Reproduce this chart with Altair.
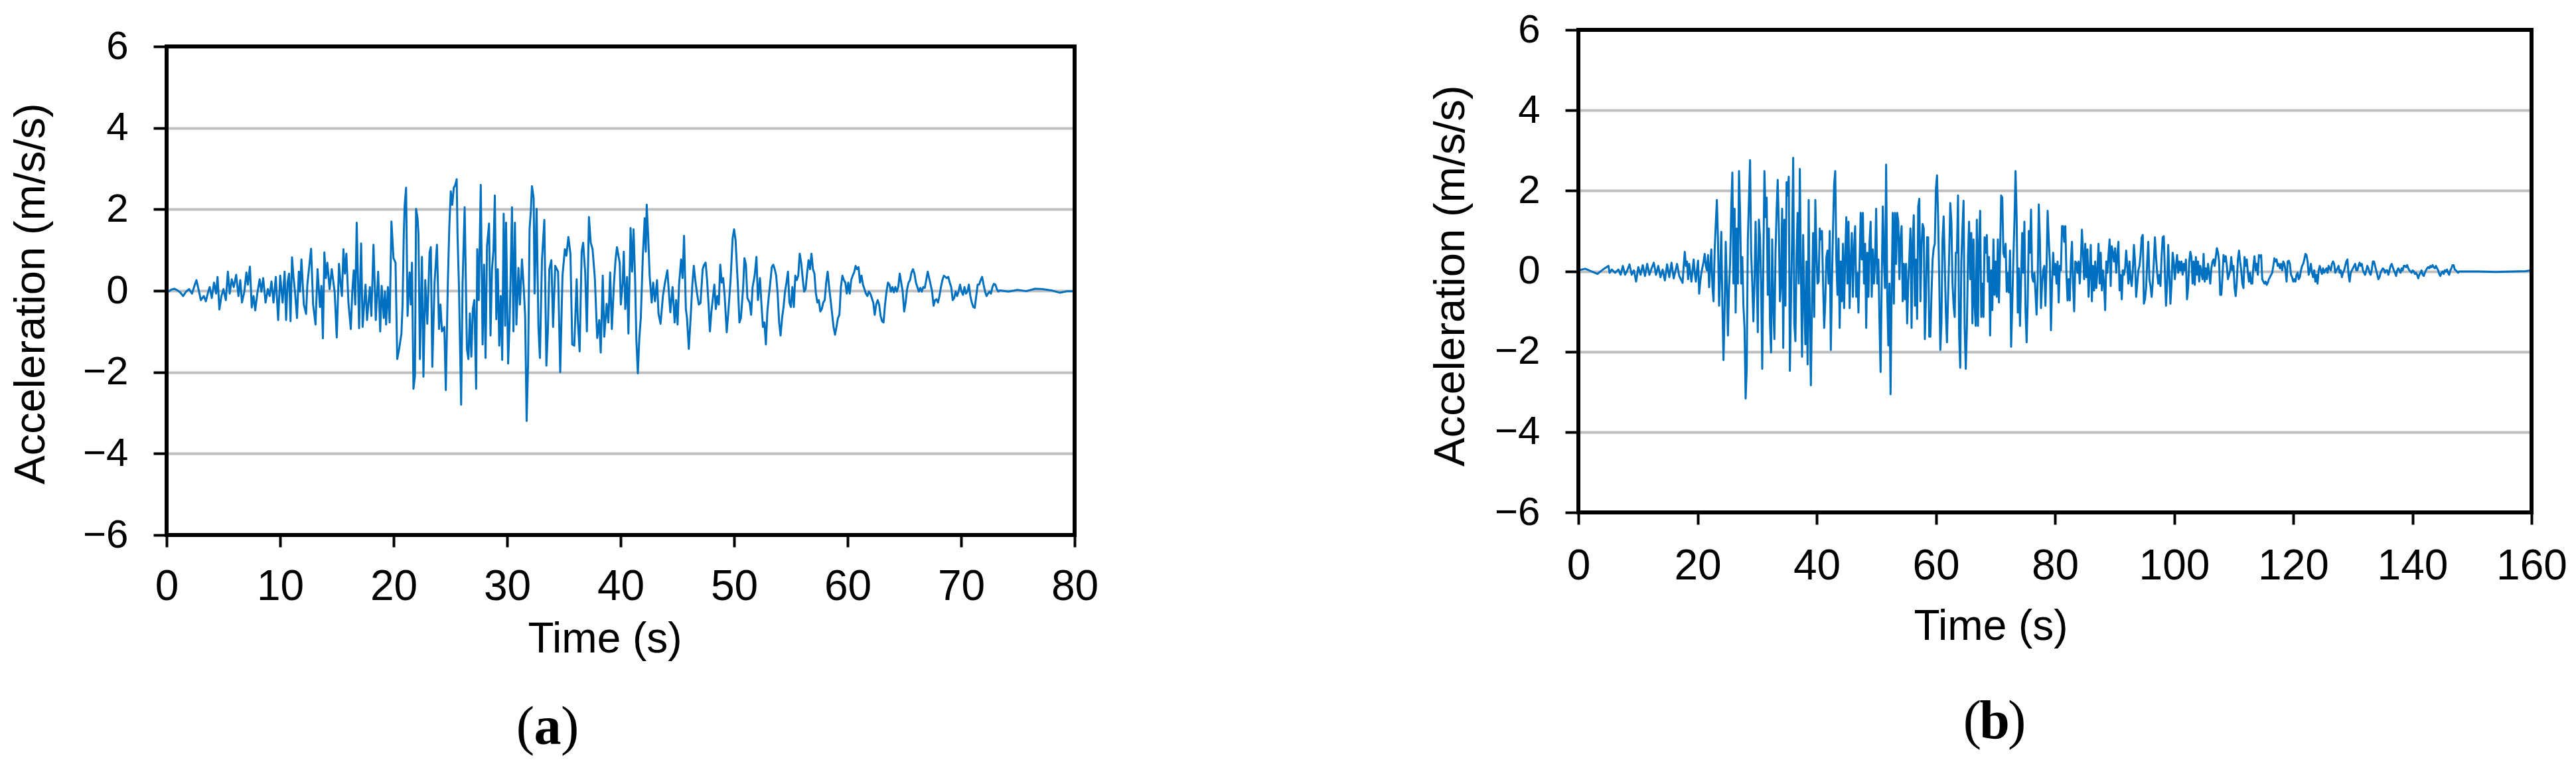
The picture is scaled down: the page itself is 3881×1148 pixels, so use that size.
import altair as alt
import pandas as pd

# ---------------- Panel (a): 0-80 s ----------------
# (time s, acceleration m/s/s), irregular spacing
A_IRREG = [
    (0.0, 0.03), (0.17, -0.02), (0.43, 0.03), (0.69, 0.05), (0.95, 0.01), (1.2, -0.04), (1.46, -0.13),
    (1.72, -0.02), (1.98, 0.04), (2.24, -0.07), (2.45, 0.12), (2.63, 0.26), (2.81, 0.04), (3.02, -0.23),
    (3.28, -0.13), (3.46, -0.26), (3.67, -0.02), (3.8, 0.09), (3.98, -0.18), (4.18, 0.2), (4.36, -0.07),
    (4.49, 0.34), (4.65, -0.46), (4.83, -0.13), (5.01, 0.04), (5.22, -0.23), (5.4, 0.47), (5.56, -0.07),
    (5.74, 0.28), (5.92, 0.09), (6.13, 0.39), (6.33, -0.13), (6.49, 0.26), (6.64, -0.29), (6.85, -0.02),
    (7.03, 0.45), (7.16, 0.15), (7.34, 0.59), (7.5, -0.41), (7.66, -0.13), (7.81, -0.48), (7.99, -0.07),
    (8.2, 0.28), (8.35, -0.02), (8.51, 0.31), (8.72, -0.29), (8.92, 0.04), (9.08, -0.13), (9.24, 0.23),
    (9.42, -0.29), (9.62, 0.34), (9.83, -0.72), (10.01, 0.37), (10.22, -0.29), (10.4, 0.47), (10.53, -0.72),
    (10.66, 0.2), (10.79, 0.42), (10.92, -0.75), (11.05, 0.82), (11.18, 0.34), (11.31, -0.02), (11.49, -0.67),
    (11.65, 0.47), (11.75, -0.02), (11.88, 0.77), (12.09, -0.34), (12.29, -0.57), (12.4, 0.15), (12.53, 0.5),
    (12.73, 1.03), (12.91, -0.34), (13.12, -0.83), (13.3, 0.53), (13.51, -0.4), (13.64, 0.12), (13.77, -1.17),
    (13.9, 0.94), (14.03, 0.31), (14.16, 0.69), (14.36, 0.04), (14.55, 0.53), (14.81, -0.04), (14.99, -1.15),
    (15.19, 0.66), (15.32, 0.2), (15.45, -0.13), (15.58, 1.02), (15.71, 0.42), (15.84, 0.91), (16.02, -0.29),
    (16.23, -0.94), (16.36, -0.02), (16.49, 0.5), (16.62, -0.34), (16.75, 1.67), (16.96, -0.92), (17.14, 1.16),
    (17.27, -0.89), (17.53, 0.15), (17.66, -0.72), (17.91, 0.09), (18.04, -0.62), (18.23, 1.13), (18.43, -0.72),
    (18.64, 0.47), (18.82, -1.0), (18.95, 0.12), (19.13, -0.67), (19.24, -0.02), (19.34, -0.83), (19.5, 0.09),
    (19.65, -0.78), (19.81, 1.7), (19.99, 0.8), (20.17, 0.69), (20.32, -1.68), (20.5, -1.41), (20.69, -1.05),
    (20.79, -0.34), (20.89, 1.29), (20.97, 2.08), (21.1, 2.53), (21.23, -0.62), (21.41, 0.45), (21.52, -0.34),
    (21.62, 0.69), (21.75, -2.41), (21.88, -2.09), (21.98, 2.01), (22.11, 1.78), (22.19, 1.4), (22.32, -1.68),
    (22.5, 0.83), (22.63, -2.11), (22.79, 0.26), (22.97, -0.81), (23.17, 0.94), (23.28, 1.07), (23.41, -1.87),
    (23.61, 0.2), (23.82, 1.13), (24.0, -0.94), (24.13, -0.34), (24.26, -1.0), (24.47, -0.89), (24.6, -2.44),
    (24.78, 0.2), (24.91, 1.59), (25.04, 2.44), (25.17, 2.11), (25.3, 2.52), (25.43, 2.6), (25.56, 2.74),
    (25.63, 1.4), (25.76, 0.09), (25.95, -2.8), (26.08, 0.2), (26.26, 2.05), (26.46, -1.43), (26.59, -1.68),
    (26.72, -0.56), (26.85, -1.62), (26.98, -0.45), (27.11, -0.23), (27.27, -2.41), (27.37, 1.02), (27.5, -0.23),
    (27.68, 2.6), (27.84, -1.32), (27.97, 0.64), (28.1, -1.65), (28.23, 1.1), (28.41, 1.65), (28.54, -1.1),
    (28.67, 0.53), (28.8, 0.99), (28.92, 2.34), (29.05, -0.7), (29.18, 0.53), (29.31, -1.35), (29.44, -0.13),
    (29.57, -1.7), (29.7, 1.89), (29.83, -0.86), (29.91, 1.67), (30.09, -1.79), (30.22, -0.78), (30.3, 0.2),
    (30.43, 2.05), (30.56, -1.0), (30.69, 1.67), (30.82, -0.83), (31.0, 0.56), (31.13, -0.34), (31.31, 0.77),
    (31.46, 0.09), (31.59, -0.62), (31.72, -3.2), (31.85, -1.79), (31.98, 1.51), (32.09, 1.95), (32.19, 2.57),
    (32.34, 2.27), (32.42, -0.07), (32.6, 2.01), (32.76, -0.89), (32.89, -1.65), (33.07, 0.75), (33.28, 1.74),
    (33.46, -1.84), (33.59, -1.0), (33.72, 0.53), (33.9, 0.75), (34.05, -0.89), (34.24, 0.61), (34.49, 0.47),
    (34.68, -2.0), (34.88, 0.37), (35.09, 1.02), (35.22, 0.86), (35.4, 1.32), (35.58, 0.91), (35.74, -1.32),
    (35.92, -1.35), (36.13, 0.28), (36.23, -0.72), (36.39, -1.49), (36.57, 0.96), (36.7, 1.18), (36.88, 0.45),
    (37.03, -1.0), (37.21, 1.81), (37.37, 1.18), (37.53, 1.02), (37.73, 0.31), (37.94, -1.16), (38.12, -0.72),
    (38.25, -1.52), (38.43, 0.37), (38.56, -1.13), (38.77, -0.32), (38.92, -0.78), (39.08, 0.45), (39.23, -0.94),
    (39.41, 0.15), (39.55, 0.75), (39.68, 1.07), (39.92, 0.69), (40.02, -0.34), (40.18, 0.2), (40.28, 0.96),
    (40.41, -0.45), (40.57, 0.34), (40.69, -1.05), (40.88, 1.54), (41.01, 0.47), (41.14, 1.51), (41.27, 0.37),
    (41.39, -1.22), (41.52, -2.03), (41.65, -1.16), (41.78, -0.67), (41.96, 0.86), (42.12, 1.78), (42.22, 0.96),
    (42.3, 2.11), (42.43, 1.35), (42.56, 0.37), (42.74, -0.29), (42.87, 0.2), (43.03, -0.26), (43.21, 0.26),
    (43.34, -0.56), (43.52, -0.81), (43.73, -0.13), (43.91, 0.2), (44.12, 0.5), (44.25, -0.02), (44.38, -0.53),
    (44.58, 0.09), (44.76, -0.78), (44.89, -0.23), (45.02, -0.83), (45.15, 0.15), (45.33, 0.77), (45.46, 0.31),
    (45.59, 1.35), (45.75, -0.45), (45.85, -0.67), (46.01, -1.43), (46.19, -0.56), (46.32, 0.15), (46.45, 0.61),
    (46.58, 0.26), (46.71, -0.02), (46.89, -0.34), (47.04, -0.3), (47.23, 0.53), (47.36, 0.64), (47.49, 0.69),
    (47.62, 0.26), (47.75, -0.34), (47.87, -1.0), (48.0, -0.51), (48.13, -0.18), (48.26, 0.15), (48.39, -0.45),
    (48.52, -0.13), (48.65, -0.34), (48.78, 0.64), (48.91, 0.2), (49.04, 0.31), (49.17, -0.13), (49.35, -1.02),
    (49.51, -0.45), (49.69, 0.26), (49.87, 1.29), (50.0, 1.51), (50.13, 1.24), (50.21, 0.8), (50.34, 0.09),
    (50.47, -0.78), (50.6, -0.67), (50.8, 0.09), (50.91, 0.8), (51.04, 0.64), (51.17, -0.18), (51.37, -0.29),
    (51.5, -0.59), (51.63, 0.09), (51.81, 0.37), (51.97, 0.83), (52.1, -0.23), (52.28, 0.31), (52.41, -0.34),
    (52.54, -0.89), (52.67, -0.78), (52.8, -1.32),
]
# regularly sampled stretch, 52.93 s onwards
A_MAIN_T0 = 52.93
A_MAIN_DT = 0.1296
A_MAIN = [
    -0.51, -0.13, 0.2, 0.58, 0.64, 0.53, 0.37, -0.07, -0.78, -1.1,
    -0.67, -0.4, -0.02, 0.2, 0.47, -0.29, -0.4, 0.09, -0.4, 0.37,
    0.26, 0.37, 0.91, 0.69, 0.31, -0.02, 0.04, 0.42, 0.75, 0.53,
    0.91, 0.53, 0.42, -0.07, -0.29, -0.23, -0.51, -0.45, -0.29, -0.23,
    0.2, 0.47, 0.09, -0.23, -0.56, -0.89, -1.08, -0.89, -0.67, -0.59,
    0.09, 0.37, 0.26, 0.2, -0.07, 0.2, -0.07, 0.26, 0.37, 0.45,
    0.61, 0.53, 0.58, 0.2, 0.37, 0.15, 0.04, -0.07, -0.13, -0.02,
    -0.07, -0.18, -0.29, -0.59, -0.34, -0.23, -0.34, -0.62, -0.75, -0.78,
    -0.34, -0.02, 0.2, 0.15, -0.02, 0.09, -0.04, 0.09, -0.02, 0.09,
    0.42, 0.2, -0.02, -0.51, -0.29, 0.04, 0.2, 0.26, 0.45, 0.53,
    0.42, 0.2, 0.09, -0.02, 0.07, -0.02, 0.09, 0.07, 0.26, 0.47,
    0.31, 0.15, -0.02, -0.37, -0.23, -0.21, -0.29, -0.13, 0.09, 0.26,
    0.37, 0.34, 0.31, 0.34, 0.2, 0.09, -0.23, -0.18, -0.02, -0.13,
    -0.02, 0.15, -0.02, -0.1, 0.09, -0.07, -0.02, 0.15, -0.13, -0.29,
    -0.4, -0.42, -0.13, 0.15, 0.15, 0.26, 0.34, 0.15, -0.02, -0.13,
    -0.07, -0.02, -0.07, 0.09, 0.17, 0.15, 0.04, -0.02, 0.01,
]
A_TAIL = [(74.18, -0.02), (74.96, 0.02), (75.74, -0.01), (76.52, 0.05), (77.16, 0.04),
          (77.94, 0.01), (78.72, -0.05), (79.37, -0.01), (80.0, -0.01)]

# ---------------- Panel (b): 0-160 s ----------------
B_PRE = [
    (0.0, 0.02), (1.15, 0.06), (2.27, -0.01), (3.19, -0.07), (4.12, 0.04), (5.05, 0.13), (5.24, -0.04),
    (5.61, 0.04), (6.16, -0.04), (6.72, 0.04), (7.09, -0.09), (7.46, 0.13), (7.84, -0.09), (8.21, 0.02),
    (8.58, 0.17), (8.95, -0.09), (9.32, 0.02), (9.69, -0.26), (10.06, 0.1), (10.44, -0.09), (10.81, 0.15),
    (11.18, -0.12), (11.55, 0.18), (11.92, -0.09), (12.29, 0.07), (12.66, 0.21), (13.03, -0.09), (13.41, 0.13),
    (13.78, -0.15), (14.15, 0.04), (14.52, -0.23), (14.89, 0.17), (15.26, -0.15), (15.63, 0.21), (16.0, -0.18),
    (16.56, 0.18), (16.93, -0.12),
]
B_MAIN_T0 = 17.49
B_MAIN_DT = 0.1857
B_MAIN_1 = [
    -0.29, 0.13, 0.48, 0.13, 0.24, -0.2, 0.18, -0.04, -0.26, 0.02,
    0.29, -0.04, -0.26, 0.02, 0.26, -0.56, -0.26, -0.04, 0.1, 0.24,
    0.43, 0.13, 0.02, 0.4, -0.4, 0.13, 0.54, -0.4, -0.75, 0.51,
    1.17, 1.77, 0.79, -0.86, -0.04, 0.98, -0.86, -2.21, -0.97, 0.73,
    -0.31, -1.6, -0.42, 0.24, 1.55, 2.45, -0.31, 1.55, -1.03, 1.06,
    -0.31, 2.49, 1.45, -0.31, 0.35, -0.86, -1.41, -3.17, -2.4, 0.79,
    1.77, 2.76, 0.46, -0.31, -1.25, -0.31, 1.23, -0.04, -1.52, 1.28,
    0.84, -0.31, -2.43, 0.24, 2.49, 1.34, 1.83, -0.59, 1.06, -1.3,
    -2.02, 0.79, -0.86, -1.69, 0.46, 1.5, 2.27, 1.12, -0.75, -0.31,
    1.55, -1.91, 1.28, -0.86, 2.21, 1.88, 2.35, -2.48, -0.75, 0.79,
    2.82, -1.3, -1.74, 0.4, 1.45, -0.31, 2.54, -0.04, -2.13, 0.9,
    -0.75, -1.82, 0.24, -2.32, 1.77, -1.25, -2.84, -0.75, 0.95, -1.14,
    1.77, 0.46, -0.31, -0.26, 1.06, 0.79, 1.0, -0.31, -1.41, -0.75,
    0.35, 0.51, -0.31, 1.0, -1.96, -0.31, 1.06, 2.16, 2.49, 0.29,
    -0.59, 0.81, -1.41, 0.24, -0.75, 0.68, -0.92, 0.35, 1.34, -0.31,
    1.23, -0.92, 0.24, 0.95, -0.64, 0.57, 1.12, -0.64, -0.04, -1.03,
    0.24, 1.45, 0.29, 1.45, -0.31, 0.68, -1.41, 0.46, -0.64, 0.73,
    1.23, -0.64, 0.54, -0.31, 0.24, 1.55, -0.31, 0.29, -1.25, -2.51,
    -0.26, 1.61, 0.35, -0.42, 2.65, -0.59, -1.85, -0.31, -3.06, -0.42,
    1.45, -0.81, 1.45, 0.18, 1.45, 1.23, -0.2, 0.79, 1.12, -0.75,
    0.18, -0.7, 0.18, -1.3, -0.31, 0.35, 1.06, -1.41,
]
B_MAIN_2 = [
    0.73, 1.39, -0.86, 0.29, -1.19, 1.61, 1.8, -0.75, 0.62, 1.17,
    1.06, -1.69, -0.64, 0.84, 0.84, -1.63, -1.63, -0.59, 0.29, 0.57,
    0.68, 2.05, 2.38, 1.34, -0.2, -1.96, -1.3, 0.79, 1.36, 0.24,
    -1.03, -1.77, -0.64, 0.4, 1.69, 1.23, -0.31, -0.86, -1.14,
    0.46, 0.46, 1.88, -1.58, -2.4, 0.24, 1.06, 1.75, -1.41, -2.43,
    -1.41, 0.35, 1.23, -0.2, 0.95, -1.3, 0.79, -0.86, -1.36, 1.28,
    -1.36, 0.68, 1.5, -1.14, -0.31, -1.14, 0.84, 0.46, 0.9, -0.26,
    0.35, -1.6, 0.02, -0.97, 0.79, -0.59, 0.24, -0.64, 0.79, -0.78,
    0.46, 1.88, 1.83, 0.46, 0.35, 0.68, -0.51, -0.04, -0.53, 0.51,
    -1.88, -0.86, 0.29, 1.23, 2.49, 1.34, -1.03, 0.07, -1.36, -0.2,
    0.95, -0.04, 1.23, -0.97, -1.77, -0.75, 1.0, 0.46, 1.53, -0.15,
    -0.26, -0.04, -0.53, -1.08, -0.2, 1.66, 0.79, -0.92, -0.31, 0.02,
    0.13, -0.86, 0.07, 1.5, 0.79, 0.24, -1.47, -0.31, 0.46, -0.09,
    0.18, -0.31, 0.24, -0.78, 0.13, 0.02, 1.12, 1.12, 0.73, 1.12,
    -0.09, -0.73, -0.2, -0.73, 0.24, 0.73, -0.31, -1.0, 0.24, 0.21,
    -0.04, 0.24, -0.31, 0.24, 1.03, 0.46, -0.2, 0.68, -0.15, 0.54,
    -0.64, -0.04, 0.65, -0.75, 0.13, -0.48, 0.24, -0.42, 0.02, 0.68,
    -0.31, 0.46, -0.48, 0.02, -0.31, -0.97, 0.24, -0.04, 0.4, 0.79,
    -0.37, 0.62, 0.46, 0.24, 0.57, -0.04, 0.4, 0.73, -0.48, -0.09,
    -0.7, 0.02, -0.09, 0.07, 0.51, 0.13, -0.31, 0.24, -0.2, -0.37,
    0.02, 0.65, 0.24, -0.64, -0.31, 0.02, 0.13, 0.4, 0.84, 0.9,
    -0.81, -0.7, -0.42, 0.24, 0.73, -0.2, -0.37, -0.64, -0.31, 0.24,
    0.84, 0.35, -0.04, -0.31, -0.09, -0.37, 0.35, 0.84, 0.87, -0.04,
    -0.86, -0.31, 0.65, -0.09, -0.81, -0.31, 0.46, 0.24, -0.2, 0.13,
    0.4, -0.04, 0.24, 0.02, 0.24, -0.09, 0.18, 0.02, 0.29, -0.7,
    -0.42, 0.24, 0.48, 0.35, -0.31, 0.24, -0.34, 0.35, -0.09, 0.24,
    -0.26, 0.13, -0.04, -0.2, 0.43, -0.26, 0.07, -0.2, 0.18, -0.04,
    -0.31, 0.07, 0.24, 0.29, 0.13, 0.35, 0.57, 0.46, 0.24, -0.59,
    -0.59, -0.15, 0.4, 0.24, 0.37, 0.13, -0.2, -0.09, 0.02, 0.35,
    0.02, 0.13, -0.42, -0.62, -0.26, 0.29, 0.51, 0.24,
]
B_MAIN_3 = [
    0.02, -0.31, -0.42, 0.35, 0.13, 0.29, -0.04, -0.26, -0.04, -0.31,
    -0.31, 0.13, 0.37, 0.02, 0.18, -0.09, 0.4, 0.35, 0.4, -0.2,
    -0.26, -0.31, -0.26, -0.34, -0.29, -0.2, -0.15, -0.09, -0.04, 0.13,
    0.32, 0.24, 0.29, 0.13, 0.18, 0.07, 0.18, 0.02, 0.24, 0.18,
    0.02, -0.26, 0.24, 0.26, 0.18, -0.09, -0.15, -0.26, -0.2, -0.26,
    -0.09, -0.04, -0.2, -0.15, 0.02, 0.13, 0.18, 0.29, 0.43, 0.4,
    0.24, -0.09, 0.02, 0.18, -0.04, -0.15, 0.02, -0.26, -0.09, -0.31,
    0.02, 0.13, 0.02, -0.07, 0.07, -0.04, 0.02, 0.07, -0.04, 0.13,
    0.07, 0.02, 0.18, 0.24, 0.18, -0.04, 0.02, 0.07, 0.13, -0.04,
    0.02, -0.15, -0.04, 0.02, 0.13, 0.24, 0.29, -0.09, -0.26, -0.04,
    0.02, 0.07, 0.13, 0.18, 0.02, 0.02, 0.13, 0.21, 0.13, 0.18,
    0.02, -0.04, -0.09, 0.02, 0.13, 0.07, -0.04, -0.09, 0.04, 0.24,
    0.24, 0.13, 0.02, -0.09, -0.2, -0.15, -0.04, 0.02, 0.07, 0.04,
    -0.04, 0.02, 0.02, -0.09, 0.02, 0.13, 0.18, 0.1, 0.02, -0.04,
    -0.12, 0.02, 0.07, 0.02, -0.04, 0.07, 0.02, 0.13, 0.13, 0.1,
    0.15, 0.07, 0.02, -0.01, -0.04, 0.02, -0.01, -0.07, -0.04, -0.09,
    -0.18, -0.09, -0.04, 0.02, -0.09, -0.12, -0.04, 0.02, 0.07, 0.1,
    0.07, 0.13, 0.1, 0.15, 0.1, 0.07, 0.13, 0.07, 0.02, -0.07,
    -0.12, -0.04, -0.01, -0.07, 0.02, -0.01, 0.04, -0.04, -0.09, 0.02,
    0.07, 0.15, 0.15, 0.04, 0.02, -0.01, -0.04, -0.01,
]
B_TAIL = [(148.5, -0.01), (151.0, -0.01), (154.0, -0.02), (157.0, -0.01), (159.0, 0.0), (160.0, 0.02)]

A_XTICKS = [0, 10, 20, 30, 40, 50, 60, 70, 80]
B_XTICKS = [0, 20, 40, 60, 80, 100, 120, 140, 160]
Y_TICKS = [-6, -4, -2, 0, 2, 4, 6]

LINE_COLOR = "#0070C0"
GRID_COLOR = "#BFBFBF"
SANS = "Liberation Sans, Arial, Helvetica, sans-serif"
SERIF = "Liberation Serif, Times New Roman, serif"


def series(irreg, t0, dt, main, tail):
    t = [p[0] for p in irreg] + [round(t0 + i * dt, 3) for i in range(len(main))] + [p[0] for p in tail]
    a = [p[1] for p in irreg] + list(main) + [p[1] for p in tail]
    return pd.DataFrame({"t": t, "a": a})


def panel(df, xmax, xticks, ytop, width, height, letter, cap_x, cap_y,
          ytitle_x, ytitle_y, xtitle_x, xtitle_y, xlabel_pad):
    xscale = alt.Scale(domain=[0, xmax], nice=False, zero=False)
    yscale = alt.Scale(domain=[-6, ytop], nice=False, zero=False)
    xaxis = alt.Axis(values=xticks, tickSize=18, tickWidth=4, tickColor="black",
                     domain=False, grid=False, labelFont=SANS, labelFontSize=64,
                     labelColor="black", labelPadding=xlabel_pad, labelBaseline="middle",
                     labelFlush=False, labelOverlap=False,
                     title="Time (s)", titleFont=SANS, titleFontSize=64, titleFontWeight="normal",
                     titleColor="black", titleX=xtitle_x, titleY=xtitle_y,
                     titleAlign="center", titleBaseline="middle")
    yaxis = alt.Axis(values=Y_TICKS, tickSize=20, tickWidth=4, tickColor="black",
                     domain=False, grid=True, gridColor=GRID_COLOR, gridWidth=4,
                     labelFont=SANS, labelFontSize=60, labelColor="black", labelPadding=38,
                     labelOverlap=False, labelFlush=False,
                     title="Acceleration (m/s/s)", titleFont=SANS, titleFontSize=65,
                     titleFontWeight="normal", titleColor="black", titleAngle=270,
                     titleX=ytitle_x, titleY=ytitle_y, titleAlign="center", titleBaseline="middle")

    line = alt.Chart(df).mark_line(color=LINE_COLOR, strokeWidth=3, strokeJoin="round").encode(
        x=alt.X("t:Q", scale=xscale, axis=xaxis),
        y=alt.Y("a:Q", scale=yscale, axis=yaxis),
        order="t:Q",
    )
    frame_df = pd.DataFrame({
        "t": [0, xmax, 0, 0],
        "t2": [xmax, xmax, 0, xmax],
        "a": [6, -6, -6, -6],
        "a2": [6, 6, 6, -6],
    })
    frame = alt.Chart(frame_df).mark_rule(color="black", strokeWidth=6, strokeCap="square").encode(
        x=alt.X("t:Q", scale=xscale, axis=xaxis),
        x2="t2:Q",
        y=alt.Y("a:Q", scale=yscale, axis=yaxis),
        y2="a2:Q",
    )
    one = pd.DataFrame({"k": [0]})
    lp = alt.Chart(one).mark_text(font=SERIF, fontSize=82, align="right", baseline="alphabetic",
                                  color="black").encode(
        x=alt.value(cap_x - 20), y=alt.value(cap_y), text=alt.value("("))
    lt = alt.Chart(one).mark_text(font=SERIF, fontSize=82, fontWeight="bold", align="center",
                                  baseline="alphabetic", color="black").encode(
        x=alt.value(cap_x), y=alt.value(cap_y), text=alt.value(letter))
    rp = alt.Chart(one).mark_text(font=SERIF, fontSize=82, align="left", baseline="alphabetic",
                                  color="black").encode(
        x=alt.value(cap_x + 20), y=alt.value(cap_y), text=alt.value(")"))
    return alt.layer(line, frame, lp, lt, rp).properties(width=width, height=height)


df_a = series(A_IRREG, A_MAIN_T0, A_MAIN_DT, A_MAIN, A_TAIL)
df_b = series(B_PRE, B_MAIN_T0, B_MAIN_DT, B_MAIN_1 + B_MAIN_2 + B_MAIN_3, B_TAIL)

pa = panel(df_a, 80, A_XTICKS, 6.408, 1368, 761, "a", 574, 1076, -205, 397, 660, 157, 60)
pb = panel(df_b, 160, B_XTICKS, 6.0, 1436, 727, "b", 627, 1067, -193, 370, 621, 172, 63)

chart = alt.hconcat(pa, pb, spacing=759).properties(
    autosize=alt.AutoSizeParams(type="none"),
    padding={"left": 243, "top": 37, "right": 3622, "bottom": 1095},
    bounds="flush",
    background="white",
).configure_view(stroke=None)

chart.save("out.html", embed_options={"renderer": "svg", "actions": False})
